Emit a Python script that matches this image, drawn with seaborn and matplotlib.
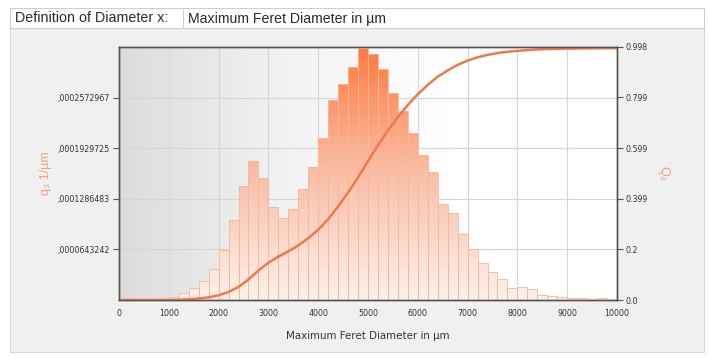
import matplotlib
matplotlib.use("Agg")
import matplotlib.pyplot as plt
from matplotlib import font_manager
from matplotlib.colors import LinearSegmentedColormap
from matplotlib.patches import Rectangle
import numpy as np
import pandas as pd
import seaborn as sns

# class edges (µm) and density q3 per class (1/µm)
bin_edges = np.arange(0, 10001, 200)
q3_density = [
    0.0, 0.0, 0.0, 0.0, 0.0000013,
    0.0000038, 0.0000089, 0.0000153, 0.0000242, 0.0000396,
    0.0000638, 0.0001021, 0.0001455, 0.0001761, 0.0001557,
    0.0001187, 0.0001047, 0.0001161, 0.0001417, 0.0001697,
    0.0002055, 0.0002540, 0.0002744, 0.0002961, 0.0003205,
    0.0003127, 0.0002935, 0.0002629, 0.0002399, 0.0002119,
    0.0001838, 0.0001621, 0.0001225, 0.0001110, 0.0000842,
    0.0000651, 0.0000472, 0.0000357, 0.0000268, 0.0000153,
    0.0000166, 0.0000140, 0.0000064, 0.0000051, 0.0000038,
    0.0000026, 0.0000026, 0.0000013, 0.0000026, 0.0000013,
]
left_ticks = [0.0000643242, 0.0001286483, 0.0001929725, 0.0002572967]
left_labels = [",0000643242", ",0001286483", ",0001929725", ",0002572967"]
left_max = 0.000321621
right_ticks = [0.0, 0.2, 0.399, 0.599, 0.799, 0.998]
right_labels = ["0.0", "0.2", "0.399", "0.599", "0.799", "0.998"]
x_ticks = list(range(0, 10001, 1000))

sns.set_style("white")
names = {f.name for f in font_manager.fontManager.ttflist}
narrow = "Liberation Sans Narrow" if "Liberation Sans Narrow" in names else "DejaVu Sans"
plt.rcParams["font.family"] = ["Liberation Sans", "DejaVu Sans"]


def condense(lab, size):
    lab.set_family(narrow)
    lab.set_fontstretch("condensed")
    lab.set_fontsize(size)


df = pd.DataFrame({"x": bin_edges[:-1] + 100, "q3": q3_density})
cum = np.concatenate([[0.0], np.cumsum(q3_density) * 200])
df_cum = pd.DataFrame({"x": bin_edges, "Q3": cum})

fig = plt.figure(figsize=(7.09, 3.58), dpi=100)
fig.patch.set_facecolor("white")

# frame: header row and grey panel
W, H = 709, 358
fig.patches.append(Rectangle((10 / W, 1 - 352 / H), 694 / W, 324 / H,
                             transform=fig.transFigure, facecolor="#f0f0f0",
                             edgecolor="#d8d8d8", lw=0.8, zorder=-5))
fig.patches.append(Rectangle((10 / W, 1 - 28 / H), 694 / W, 20 / H,
                             transform=fig.transFigure, facecolor="white",
                             edgecolor="#cfcfcf", lw=0.8, zorder=-5))
fig.add_artist(plt.Line2D([183 / W, 183 / W], [1 - 28 / H, 1 - 8 / H],
                          transform=fig.transFigure, color="#cfcfcf", lw=0.8))
fig.text(15 / W, 1 - 18.5 / H, "Definition of Diameter x:", fontsize=10.3,
         va="center", ha="left", color="#2a2a2a")
fig.text(188 / W, 1 - 18.5 / H, "Maximum Feret Diameter in µm", fontsize=10.2,
         va="center", ha="left", color="#2a2a2a")

ax = fig.add_axes([119 / W, 1 - 300 / H, 498 / W, 253 / H])
ax.set_xlim(0, 10000)
ax.set_ylim(0, left_max)

# background gradient, grey on the left to white on the right
bg = np.linspace(0, 1, 256).reshape(1, -1)
bg_cmap = LinearSegmentedColormap.from_list("bg", ["#dcdcdc", "#f2f2f2", "#ffffff", "#ffffff"])
ax.imshow(bg, extent=[0, 10000, 0, left_max], aspect="auto", cmap=bg_cmap,
          zorder=0, interpolation="bicubic")

ax.set_xticks(x_ticks)
ax.set_yticks(left_ticks)
ax.grid(True, color="#d6d6d6", lw=0.8, zorder=1)
ax.set_axisbelow(True)

sns.histplot(data=df, x="x", weights="q3", binwidth=200, binrange=(0, 10000),
             stat="count", ax=ax, color="#ff7f45", edgecolor="#f6b79c",
             linewidth=0.6, alpha=1.0, zorder=2)

# vertical gradient inside the bars
grad = np.linspace(0, 1, 256).reshape(-1, 1)
bar_cmap = LinearSegmentedColormap.from_list("bars", ["#fdf1ec", "#f9bea5", "#ff7a3f"])
for p in list(ax.patches):
    if p.get_height() <= 0:
        continue
    p.set_facecolor("none")
    im = ax.imshow(grad, extent=[p.get_x(), p.get_x() + p.get_width(), 0, left_max],
                   origin="lower", aspect="auto", cmap=bar_cmap, zorder=2,
                   interpolation="bicubic")
    im.set_clip_path(p)
    p.set_zorder(3)
ax.set_xlim(0, 10000)
ax.set_ylim(0, left_max)

ax.set_yticks(left_ticks)
ax.set_yticklabels(left_labels)
ax.set_xticks(x_ticks)
ax.set_xticklabels([str(t) for t in x_ticks])
ax.set_xlabel("Maximum Feret Diameter in µm", color="#333333", labelpad=9)
condense(ax.xaxis.label, 8.2)
ax.set_ylabel("q₃ 1/µm", fontsize=9, color="#f2a27e", labelpad=4)
ax.tick_params(axis="both", colors="#555555", length=4, pad=2.5,
               direction="out", labelcolor="#333333")
for lab in ax.get_xticklabels() + ax.get_yticklabels():
    condense(lab, 6.3)
for s in ax.spines.values():
    s.set_color("#555555")
    s.set_linewidth(1.0)

ax2 = ax.twinx()
ax2.set_ylim(0, 0.998)
sns.lineplot(data=df_cum, x="x", y="Q3", ax=ax2, color="#f0784a", lw=1.8)
ax2.set_xlim(0, 10000)
ax2.set_yticks(right_ticks)
ax2.set_yticklabels(right_labels)
ax2.set_ylabel("Q₃", fontsize=9, color="#f2a27e", rotation=270, labelpad=16)
ax2.set_xlabel("")
ax2.tick_params(axis="y", colors="#555555", length=4, pad=2,
                direction="out", labelcolor="#333333")
for lab in ax2.get_yticklabels():
    condense(lab, 6.3)
for s in ax2.spines.values():
    s.set_color("#555555")
    s.set_linewidth(1.0)
ax2.grid(False)

fig.savefig("out.png", dpi=100)
